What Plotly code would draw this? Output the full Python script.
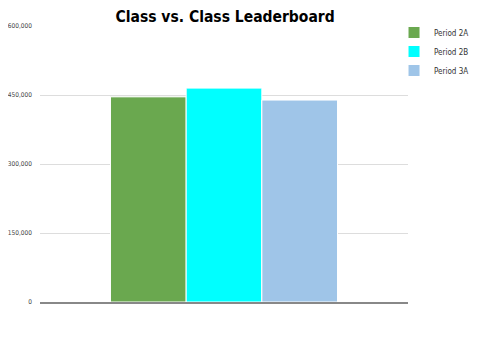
import plotly.graph_objects as go

categories = [""]
series_names = ["Period 2A", "Period 2B", "Period 3A"]
series_values = [[446000], [465000], [439000]]
colors = ["#6aa84f", "#00ffff", "#9fc5e8"]
tick_vals = [0, 150000, 300000, 450000, 600000]
tick_text = ["0", "150,000", "300,000", "450,000", "600,000"]

fig = go.Figure()
for name, vals, c in zip(series_names, series_values, colors):
    fig.add_trace(go.Bar(x=categories, y=vals, name=name,
                         marker=dict(color=c, line=dict(color="white", width=1))))

fig.update_layout(
    width=473, height=354,
    margin=dict(l=32, r=73, t=18, b=60, autoexpand=False),
    paper_bgcolor="white", plot_bgcolor="white",
    barmode="group", bargap=0.383, bargroupgap=0,
    title=dict(text="<b>Class vs. Class Leaderboard</b>", x=0.459, xanchor="center",
               y=0.977, yanchor="middle",
               font=dict(family="DejaVu Sans Condensed", size=15.5, color="black")),
    showlegend=True,
    legend=dict(x=0.962, y=1.029, xanchor="left", yanchor="top",
                font=dict(family="DejaVu Sans Condensed", size=8, color="#333333"),
                tracegroupgap=5, itemwidth=30, bgcolor="rgba(0,0,0,0)"),
    xaxis=dict(showticklabels=False, showgrid=False, showline=True,
               linecolor="#888888", linewidth=1.5, zeroline=False),
    yaxis=dict(range=[0, 600000], tickvals=tick_vals, ticktext=tick_text,
               showgrid=True, gridcolor="#dddddd", gridwidth=1, zeroline=False,
               showline=False, ticks="", ticklabelstandoff=7,
               tickfont=dict(family="DejaVu Sans Condensed", size=6.5, color="#444444")),
)

fig.write_html("out.html")
